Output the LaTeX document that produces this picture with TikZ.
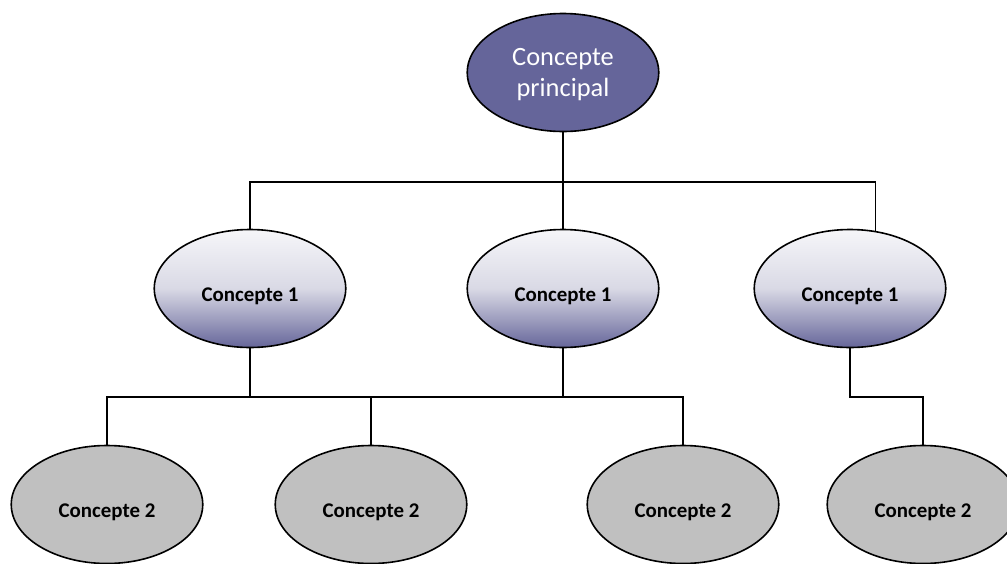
\documentclass[tikz,border=0pt]{standalone}
\usepackage{fontspec}
\setmainfont{Carlito}
\usetikzlibrary{shapes.geometric}
\definecolor{topfill}{HTML}{65659A}
\definecolor{gradtop}{HTML}{F6F6F9}
\definecolor{gradmid}{HTML}{D9D9E5}
\definecolor{gradbot}{HTML}{66669A}
\definecolor{grayfill}{HTML}{C0C0C0}
\newcommand{\lowtext}[2]{\raisebox{-#1}[\height][\depth]{#2}}
\tikzset{
  concept/.style={ellipse, draw=black, line width=1.6pt, outer sep=0pt, inner sep=0pt,
    minimum width=191.5pt, minimum height=118pt},
  maintopic/.style={concept, fill=topfill, text=white, align=center,
    font=\fontsize{26.4}{31}\selectfont},
  levelone/.style={concept, top color=gradtop, bottom color=gradbot, middle color=gradmid,
    font=\fontsize{20.9}{25}\selectfont\bfseries},
  leveltwo/.style={concept, fill=grayfill, font=\fontsize{20.9}{25}\selectfont\bfseries},
  link/.style={draw=black, line width=1.6pt}
}
\begin{document}
\begin{tikzpicture}[x=1pt,y=-1pt]
\useasboundingbox (0,0) rectangle (1007,563);
\clip (0,0) rectangle (1007,563);
\coordinate (bus1) at (563,182);
\coordinate (bus2) at (563,397);
% nodes
\node[maintopic] (top) at (563,72.5) {\lowtext{2.5pt}{Concepte}\\\lowtext{2.5pt}{principal}};
\node[levelone] (m1) at (250,288.5) {\lowtext{8pt}{Concepte 1}};
\node[levelone] (m2) at (563,288.5) {\lowtext{8pt}{Concepte 1}};
\node[levelone] (m3) at (850,288.5) {\lowtext{8pt}{Concepte 1}};
\node[leveltwo] (b1) at (107,504.5) {\lowtext{8pt}{Concepte 2}};
\node[leveltwo] (b2) at (371,504.5) {\lowtext{8pt}{Concepte 2}};
\node[leveltwo] (b3) at (683,504.5) {\lowtext{8pt}{Concepte 2}};
\node[leveltwo] (b4) at (923,504.5) {\lowtext{8pt}{Concepte 2}};
% connectors level 0 -> 1
\draw[link] (top.south) -- (m2.north);
\draw[link] (m1.north) -- (m1.north |- bus1) -- (m3.66.5 |- bus1) -- (m3.66.5);
% connectors level 1 -> 2
\draw[link] (m1.south) -- (m1.south |- bus2);
\draw[link] (m2.south) -- (m2.south |- bus2);
\draw[link] (b1.north) -- (b1.north |- bus2) -- (b3.north |- bus2) -- (b3.north);
\draw[link] (b2.north) -- (b2.north |- bus2);
\draw[link] (m3.south) -- (m3.south |- bus2) -- (b4.north |- bus2) -- (b4.north);
\end{tikzpicture}
\end{document}
